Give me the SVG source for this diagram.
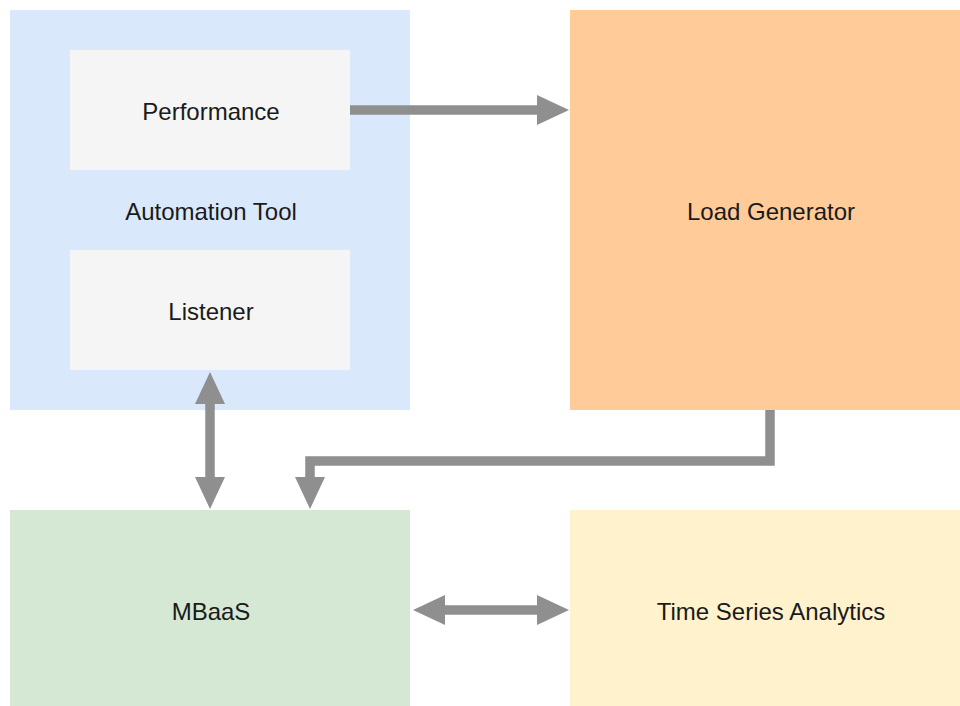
<svg xmlns="http://www.w3.org/2000/svg" width="960" height="706" viewBox="0 0 960 706">
<style>
.lbl{font-family:"Liberation Sans",Arial,sans-serif;font-size:24px;fill:#1a1a1a;text-anchor:middle;dominant-baseline:central}
.edge{fill:none;stroke:#8f8f8f;stroke-width:9.5;stroke-linejoin:miter}
</style>
<defs>
<marker id="ah" markerUnits="userSpaceOnUse" markerWidth="33" markerHeight="31" refX="0" refY="15" orient="auto-start-reverse" viewBox="0 0 33 31">
<path d="M0,0 L32,15 L0,30 Z" fill="#8f8f8f"/>
</marker>
</defs>
<rect width="960" height="706" fill="#ffffff"/>
<g id="automation-tool">
<rect x="10" y="10" width="400" height="400" fill="#dae8fc"/>
<text class="lbl" x="211" y="211">Automation Tool</text>
</g>
<g id="performance">
<rect x="70" y="50" width="280" height="120" fill="#f5f5f5"/>
<text class="lbl" x="211" y="111">Performance</text>
</g>
<g id="listener">
<rect x="70" y="250" width="280" height="120" fill="#f5f5f5"/>
<text class="lbl" x="211" y="311">Listener</text>
</g>
<g id="load-generator">
<rect x="570" y="10" width="400" height="400" fill="#ffcc99"/>
<text class="lbl" x="771" y="211">Load Generator</text>
</g>
<g id="mbaas">
<rect x="10" y="510" width="400" height="200" fill="#d5e8d4"/>
<text class="lbl" x="211" y="611">MBaaS</text>
</g>
<g id="time-series-analytics">
<rect x="570" y="510" width="400" height="200" fill="#fff2cc"/>
<text class="lbl" x="771" y="611">Time Series Analytics</text>
</g>
<g id="connectors">
<path class="edge" d="M350,110 L537,110" marker-end="url(#ah)"/>
<path class="edge" d="M210,404 L210,477" marker-start="url(#ah)" marker-end="url(#ah)"/>
<path class="edge" d="M770,410 L770,461 L310,461 L310,477" marker-end="url(#ah)"/>
<path class="edge" d="M445,610 L537,610" marker-start="url(#ah)" marker-end="url(#ah)"/>
</g>
</svg>
